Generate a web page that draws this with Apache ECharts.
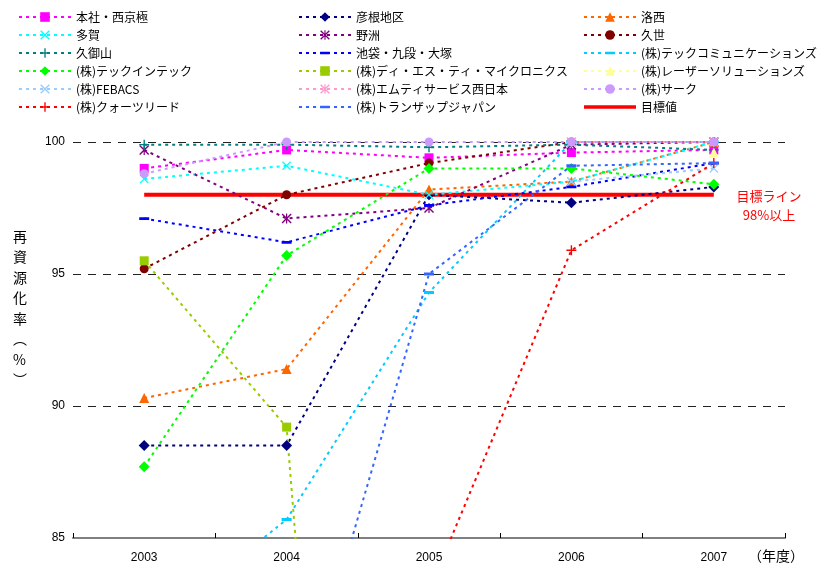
<!DOCTYPE html>
<html>
<head>
<meta charset="utf-8">
<script src="https://cdn.jsdelivr.net/npm/echarts@6/dist/echarts.min.js"></script>
<style>
  html, body { margin: 0; padding: 0; background: #fff; }
  #chart { width: 835px; height: 567px; }
</style>
</head>
<body>
<div id="chart"></div>
<script>
// 年度
const years = ['2003', '2004', '2005', '2006', '2007'];
const yTicks = [85, 90, 95, 100];

// 事業所・グループ会社ごとの再資源化率（%）
const honsha     = [99.0, 99.7, 99.4, 99.6, 99.7];   // 本社・西京極
const hikone     = [88.5, 88.5, 98.0, 97.7, 98.3];   // 彦根地区
const rakusai    = [90.3, 91.4, 98.2, 98.5, 100];    // 洛西
const taga       = [98.6, 99.1, 98.0, 98.5, 100];    // 多賀
const yasu       = [99.7, 97.1, 97.5, 99.9, 100];    // 野洲
const kuze       = [95.2, 98.0, 99.2, 100, 100];     // 久世
const kumiyama   = [99.9, 99.9, 99.8, 99.9, 99.7];   // 久御山
const ikebukuro  = [97.1, 96.2, 97.6, 98.3, 99.2];   // 池袋・九段・大塚
const techComm   = [81.4, 85.7, 94.3, 100, 100];     // (株)テックコミュニケーションズ
const techIntec  = [87.7, 95.7, 99.0, 99.0, 98.4];   // (株)テックインテック
const dst        = [95.5, 89.2, 22.0, null, null];   // (株)ディ・エス・ティ・マイクロニクス
const laser      = [null, null, null, null, 99.6];   // (株)レーザーソリューションズ
const febacs     = [null, null, null, 98.5, 99.0];   // (株)FEBACS
const mtService  = [null, null, null, 100, 100];     // (株)エムティサービス西日本
const sark       = [98.8, 100, 100, 100, 100];       // (株)サーク
const quartz     = [null, null, 83.0, 95.9, 99.2];   // (株)クォーツリード
const transap    = [null, 76.5, 95.0, 99.1, 99.2];   // (株)トランザップジャパン
const target     = [98, 98, 98, 98, 98];             // 目標値

// marker shapes
const SYM_X    = 'path://M0,1L1,0L5,4L9,0L10,1L6,5L10,9L9,10L5,6L1,10L0,9L4,5Z';
const SYM_STAR = 'path://M0,1L1,0L5,4L9,0L10,1L6,5L10,9L9,10L5,6L1,10L0,9L4,5Z M4.4,0H5.6V10H4.4Z';
const SYM_PLUS = 'path://M4.3,0H5.7V4.3H10V5.7H5.7V10H4.3V5.7H0V4.3H4.3Z';
// short horizontal bar marker; the invisible corner specks keep a square box
const SYM_DASH = 'path://M0,0L0.01,0L0,0.01Z M10,10L9.99,10L10,9.99Z M0,3.6H10V6.4H0Z';
// legend icon for the solid goal line
const ICON_GOAL = 'path://M0,0L0.01,0L0,0.01Z M52,12L51.99,12L52,11.99Z M0,4.2H52V7.8H0Z';

function dotted(name, data, color, symbol, size) {
  return {
    name: name,
    type: 'line',
    data: data,
    symbol: symbol,
    symbolSize: size,
    showSymbol: true,
    connectNulls: false,
    animation: false,
    itemStyle: { color: color },
    lineStyle: { color: color, width: 2, type: [3, 4] },
    emphasis: { disabled: true }
  };
}

const series = [
  dotted('本社・西京極', honsha, '#FF00FF', 'rect', 9),
  dotted('彦根地区', hikone, '#000080', 'diamond', 11),
  dotted('洛西', rakusai, '#FF6600', 'triangle', 10),
  dotted('多賀', taga, '#00FFFF', SYM_X, 9),
  dotted('野洲', yasu, '#800080', SYM_STAR, 10),
  dotted('久世', kuze, '#800000', 'circle', 9),
  dotted('久御山', kumiyama, '#008080', SYM_PLUS, 10),
  dotted('池袋・九段・大塚', ikebukuro, '#0000FF', SYM_DASH, 10),
  dotted('(株)テックコミュニケーションズ', techComm, '#00CCFF', SYM_DASH, 10),
  dotted('(株)テックインテック', techIntec, '#00FF00', 'diamond', 11),
  dotted('(株)ディ・エス・ティ・マイクロニクス', dst, '#99CC00', 'rect', 9),
  dotted('(株)レーザーソリューションズ', laser, '#FFFF99', 'triangle', 10),
  dotted('(株)FEBACS', febacs, '#99CCFF', SYM_X, 9),
  dotted('(株)エムティサービス西日本', mtService, '#FF99CC', SYM_STAR, 10),
  dotted('(株)サーク', sark, '#CC99FF', 'circle', 9),
  dotted('(株)クォーツリード', quartz, '#FF0000', SYM_PLUS, 10),
  dotted('(株)トランザップジャパン', transap, '#3366FF', SYM_DASH, 10),
  {
    name: '目標値',
    type: 'line',
    data: target,
    symbol: 'none',
    z: 1,
    animation: false,
    itemStyle: { color: '#FF0000' },
    lineStyle: { color: '#FF0000', width: 4, type: 'solid' },
    emphasis: { disabled: true }
  }
];

const legendFont = { fontFamily: "'Noto Sans CJK JP', sans-serif", fontSize: 12, color: '#000', lineHeight: 12 };
function legendCol(left, names) {
  return {
    orient: 'vertical',
    left: left,
    top: 11,
    itemWidth: 52,
    itemHeight: 12,
    itemGap: 6,
    padding: 0,
    selectedMode: false,
    textStyle: legendFont,
    data: names
  };
}

const chart = echarts.init(document.getElementById('chart'), null, { renderer: 'canvas' });
chart.setOption({
  backgroundColor: '#ffffff',
  animation: false,
  legend: [
    legendCol(18, ['本社・西京極', '多賀', '久御山', '(株)テックインテック', '(株)FEBACS', '(株)クォーツリード']),
    legendCol(298, ['彦根地区', '野洲', '池袋・九段・大塚', '(株)ディ・エス・ティ・マイクロニクス', '(株)エムティサービス西日本', '(株)トランザップジャパン']),
    legendCol(583, ['洛西', '久世', '(株)テックコミュニケーションズ', '(株)レーザーソリューションズ', '(株)サーク',
      { name: '目標値', icon: ICON_GOAL, itemStyle: { color: '#FF0000' } }])
  ],
  grid: { left: 73, right: 50, top: 142, bottom: 29, containLabel: false },
  xAxis: {
    type: 'category',
    data: years,
    boundaryGap: true,
    axisLine: { show: true, lineStyle: { color: '#808080', width: 2 } },
    axisTick: { show: true, inside: true, length: 5, lineStyle: { color: '#000', width: 1 } },
    axisLabel: { color: '#000', fontSize: 12, margin: 14, fontFamily: "'Liberation Sans', Arial, sans-serif" },
    splitLine: { show: false }
  },
  yAxis: {
    type: 'value',
    min: yTicks[0],
    max: yTicks[yTicks.length - 1],
    interval: 5,
    axisLine: { show: false },
    axisTick: { show: false },
    axisLabel: { color: '#000', fontSize: 12, margin: 8, fontFamily: "'Liberation Sans', Arial, sans-serif" },
    splitLine: {
      show: true,
      lineStyle: { color: '#222', width: 1, type: [8, 7] }
    }
  },
  graphic: [
    {
      type: 'text',
      left: 13,
      top: 226,
      style: {
        text: '再\n資\n源\n化\n率\n︵\n%\n︶',
        font: "14px 'Noto Sans CJK JP', sans-serif",
        fill: '#000',
        lineHeight: 20.5,
        align: 'center'
      }
    },
    {
      type: 'text',
      x: 769,
      y: 187,
      style: {
        text: '目標ライン\n98%以上',
        font: "13px 'Noto Sans CJK JP', sans-serif",
        fill: '#FF0000',
        lineHeight: 19,
        align: 'center'
      }
    },
    {
      type: 'text',
      x: 776,
      y: 549,
      style: {
        text: '（年度）',
        font: "14px 'Noto Sans CJK JP', sans-serif",
        fill: '#000',
        align: 'center'
      }
    }
  ],
  series: series
});
</script>
</body>
</html>
